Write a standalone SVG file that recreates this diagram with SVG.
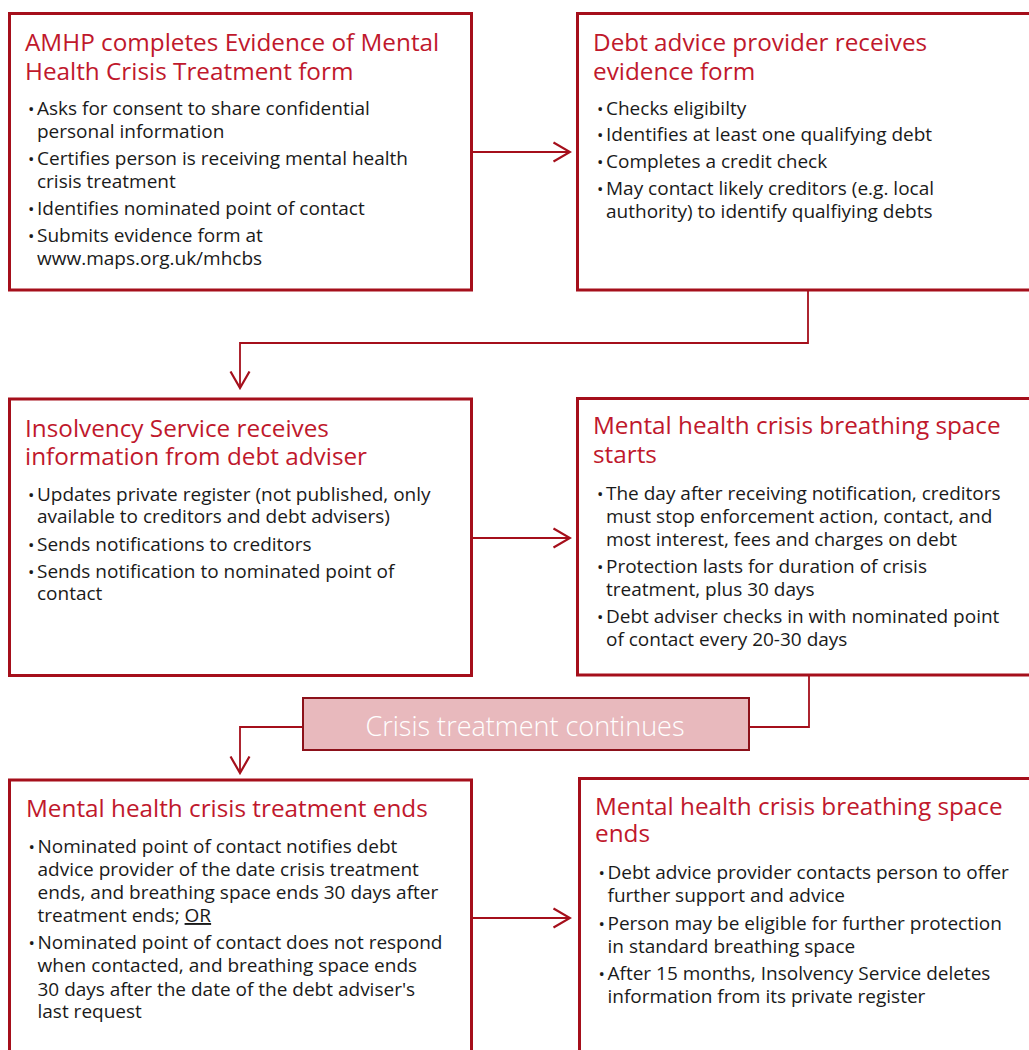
<svg xmlns="http://www.w3.org/2000/svg" width="1029" height="1050" viewBox="0 0 1029 1050">
<defs>
<style>
.box{fill:#ffffff;stroke:#a50f1b;stroke-width:3}
.t{font-family:"Open Sans","Noto Sans","Liberation Sans",sans-serif;font-size:24.3px;fill:#c0182c}
.b{font-family:"Open Sans","Noto Sans","Liberation Sans",sans-serif;font-size:19px;fill:#1a1a1a}
.bu{font-family:"Open Sans","Noto Sans","Liberation Sans",sans-serif;font-size:17px;fill:#1a1a1a}
.con{fill:none;stroke:#a50f1b;stroke-width:1.8}
.lbl{fill:#e8b9bd;stroke:#8c111a;stroke-width:2}
.lt{font-family:"Open Sans","Noto Sans","Liberation Sans",sans-serif;font-size:27px;fill:#ffffff;font-weight:300}
</style>
<marker id="arr" viewBox="0 0 19 22" refX="17.5" refY="11" markerWidth="19" markerHeight="22" markerUnits="userSpaceOnUse" orient="auto">
<path d="M1,1.5 L17.5,11 L1,20.5" fill="none" stroke="#a50f1b" stroke-width="2.2"/>
</marker>
</defs>
<rect width="1029" height="1050" fill="#ffffff"/>

<g id="connectors">
<path class="con" d="M471.5,152 L570,152" marker-end="url(#arr)"/>
<path class="con" d="M808,290 L808,343 L240,343 L240,388" marker-end="url(#arr)"/>
<path class="con" d="M471.5,538 L570,538" marker-end="url(#arr)"/>
<path class="con" d="M809,675 L809,727 L240,727 L240,773" marker-end="url(#arr)"/>
<path class="con" d="M471.5,918 L570,918" marker-end="url(#arr)"/>
</g>

<g id="n1">
<rect class="box" x="9.5" y="13.5" width="462" height="276.5"/>
<text class="t" x="25" y="51">AMHP completes Evidence of Mental</text>
<text class="t" x="25" y="80">Health Crisis Treatment form</text>
<text class="bu" x="28" y="115">•</text><text class="b" x="37" y="115">Asks for consent to share confidential</text>
<text class="b" x="37" y="138">personal information</text>
<text class="bu" x="28" y="165">•</text><text class="b" x="37" y="165">Certifies person is receiving mental health</text>
<text class="b" x="37" y="188">crisis treatment</text>
<text class="bu" x="28" y="215">•</text><text class="b" x="37" y="215">Identifies nominated point of contact</text>
<text class="bu" x="28" y="242">•</text><text class="b" x="37" y="242">Submits evidence form at</text>
<text class="b" x="37" y="265">www.maps.org.uk/mhcbs</text>
</g>

<g id="n2">
<rect class="box" x="577.5" y="13.5" width="470" height="276.5"/>
<text class="t" x="593" y="51">Debt advice provider receives</text>
<text class="t" x="593" y="80">evidence form</text>
<text class="bu" x="597" y="115">•</text><text class="b" x="606" y="115">Checks eligibilty</text>
<text class="bu" x="597" y="141">•</text><text class="b" x="606" y="141">Identifies at least one qualifying debt</text>
<text class="bu" x="597" y="168">•</text><text class="b" x="606" y="168">Completes a credit check</text>
<text class="bu" x="597" y="195">•</text><text class="b" x="606" y="195">May contact likely creditors (e.g. local</text>
<text class="b" x="606" y="218">authority) to identify qualfiying debts</text>
</g>

<g id="n3">
<rect class="box" x="9.5" y="399" width="462" height="276.5"/>
<text class="t" x="25" y="437">Insolvency Service receives</text>
<text class="t" x="25" y="465">information from debt adviser</text>
<text class="bu" x="28" y="501">•</text><text class="b" x="37" y="501">Updates private register (not published, only</text>
<text class="b" x="37" y="523">available to creditors and debt advisers)</text>
<text class="bu" x="28" y="551">•</text><text class="b" x="37" y="551">Sends notifications to creditors</text>
<text class="bu" x="28" y="578">•</text><text class="b" x="37" y="578">Sends notification to nominated point of</text>
<text class="b" x="37" y="600">contact</text>
</g>

<g id="n4">
<rect class="box" x="577.5" y="398.5" width="470" height="276.5"/>
<text class="t" x="593" y="434">Mental health crisis breathing space</text>
<text class="t" x="593" y="463">starts</text>
<text class="bu" x="597" y="500">•</text><text class="b" x="606" y="500">The day after receiving notification, creditors</text>
<text class="b" x="606" y="523">must stop enforcement action, contact, and</text>
<text class="b" x="606" y="546">most interest, fees and charges on debt</text>
<text class="bu" x="597" y="573">•</text><text class="b" x="606" y="573">Protection lasts for duration of crisis</text>
<text class="b" x="606" y="596">treatment, plus 30 days</text>
<text class="bu" x="597" y="623">•</text><text class="b" x="606" y="623">Debt adviser checks in with nominated point</text>
<text class="b" x="606" y="646">of contact every 20-30 days</text>
</g>

<g id="n-continues">
<rect class="lbl" x="303" y="698" width="446" height="52"/>
<text class="lt" x="525" y="736" text-anchor="middle">Crisis treatment continues</text>
</g>

<g id="n5">
<rect class="box" x="9.5" y="780" width="462" height="290"/>
<text class="t" x="26" y="817">Mental health crisis treatment ends</text>
<text class="bu" x="28.5" y="853">•</text><text class="b" x="37.5" y="853">Nominated point of contact notifies debt</text>
<text class="b" x="37.5" y="876">advice provider of the date crisis treatment</text>
<text class="b" x="37.5" y="899">ends, and breathing space ends 30 days after</text>
<text class="b" x="37.5" y="922">treatment ends; <tspan text-decoration="underline">OR</tspan></text>
<text class="bu" x="28.5" y="949">•</text><text class="b" x="37.5" y="949">Nominated point of contact does not respond</text>
<text class="b" x="37.5" y="972">when contacted, and breathing space ends</text>
<text class="b" x="37.5" y="996">30 days after the date of the debt adviser's</text>
<text class="b" x="37.5" y="1018">last request</text>
</g>

<g id="n6">
<rect class="box" x="579.5" y="778.5" width="470" height="290"/>
<text class="t" x="595" y="815">Mental health crisis breathing space</text>
<text class="t" x="595" y="842">ends</text>
<text class="bu" x="598.5" y="879">•</text><text class="b" x="607.5" y="879">Debt advice provider contacts person to offer</text>
<text class="b" x="607.5" y="902">further support and advice</text>
<text class="bu" x="598.5" y="930">•</text><text class="b" x="607.5" y="930">Person may be eligible for further protection</text>
<text class="b" x="607.5" y="953">in standard breathing space</text>
<text class="bu" x="598.5" y="980">•</text><text class="b" x="607.5" y="980">After 15 months, Insolvency Service deletes</text>
<text class="b" x="607.5" y="1003">information from its private register</text>
</g>
</svg>
